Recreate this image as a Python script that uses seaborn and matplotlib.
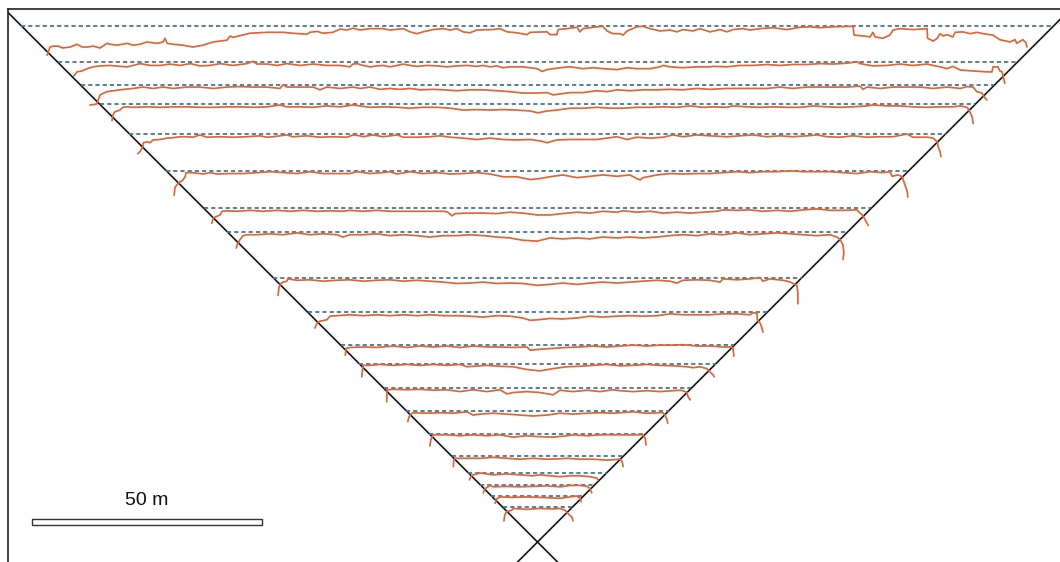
import matplotlib
matplotlib.use("Agg")
import matplotlib.pyplot as plt
from matplotlib.patches import Rectangle
import seaborn as sns
import pandas as pd

# ---------------- data (metres) ----------------
# design levels (height above the apex of the V)
design_levels = [112.2, 104.3, 99.3, 95.2, 88.7, 80.7, 72.6, 67.4, 57.4, 50.0,
                 42.8, 38.8, 33.4, 28.5, 23.5, 18.6, 15.1, 12.5, 10.1, 7.6]

# measured traces: (horizontal position, depth below design level)
trace_01 = [(-106.6,6.4),(-106.0,4.6),(-105.3,4.4),(-104.2,4.4),(-103.2,4.8),(-101.6,4.6),(-100.1,4.0),(-99.0,4.6),(-97.9,4.6),(-96.6,4.4),(-95.1,4.8),(-93.6,3.8),(-92.9,4.0),(-91.4,4.2),(-89.2,3.8),(-87.9,4.2),(-86.4,4.0),(-84.9,3.5),(-82.7,3.8),(-81.4,3.5),(-81.0,2.7),(-80.5,3.8),(-79.2,4.0),(-77.1,4.2),(-74.9,4.6),(-72.7,4.2),(-70.5,3.5),(-67.5,3.1),(-66.8,2.2),(-66.2,2.5),(-62.5,1.6),(-58.8,1.4),(-55.3,1.4),(-53.2,1.6),(-50.1,1.8),(-49.5,1.4),(-47.9,1.2),(-46.6,1.6),(-44.5,1.4),(-42.9,0.7),(-41.4,0.9),(-40.1,0.5),(-38.6,0.9),(-36.4,0.6),(-33.6,0.6),(-32.1,0.9),(-29.2,0.6),(-27.7,1.3),(-26.2,1.7),(-24.9,1.3),(-22.7,0.8),(-20.5,0.6),(-19.0,0.9),(-17.5,0.6),(-16.2,1.3),(-14.7,1.5),(-13.2,0.9),(-9.7,0.8),(-8.2,0.6),(-6.6,1.3),(-4.5,1.5),(-2.3,1.9),(-1.6,1.4),(2.1,1.3),(2.7,1.9),(4.2,1.9),(4.5,0.8),(6.4,0.6),(8.6,0.3),(9.2,1.3),(9.9,0.6),(12.9,0.2),(14.2,0.1),(15.1,1.1),(16.4,1.7),(17.9,1.7),(18.6,2.0),(19.5,1.1),(21.6,0.2),(22.9,0.1),(24.5,0.6),(26.6,1.1),(28.8,0.9),(30.3,1.3),(31.6,0.8),(33.8,1.1),(35.3,0.6),(37.5,1.3),(39.7,0.8),(41.2,1.3),(42.5,0.8),(44.7,0.6),(46.2,0.9),(48.4,0.6),(51.2,0.4),(54.2,0.8),(57.1,0.3),(59.2,0.2),(61.4,0.4),(64.2,0.2),(68.6,0.1),(68.8,2.0),(70.8,2.2),(72.3,2.4),(72.9,1.4),(73.4,2.4),(75.1,2.7),(76.6,2.0),(77.3,0.9),(78.8,0.6),(81.6,0.8),(84.7,0.6),(84.8,2.7),(86.0,3.3),(86.9,2.7),(87.5,1.7),(88.2,2.2),(89.0,1.9),(90.3,2.4),(90.8,1.4),(92.5,1.3),(94.0,1.7),(95.5,1.4),(96.9,1.7),(99.0,2.0),(100.5,3.0),(102.7,3.5),(103.8,3.0),(104.2,3.8),(105.5,3.0),(106.2,3.7),(106.4,4.6)]
trace_02 = [(-100.8,3.0),(-100.1,2.1),(-99.0,1.9),(-97.9,1.4),(-96.6,1.0),(-95.1,0.8),(-92.9,0.7),(-90.8,0.9),(-89.2,1.0),(-87.9,0.7),(-86.4,0.3),(-84.2,0.7),(-82.1,0.7),(-79.9,0.4),(-77.7,0.7),(-75.5,0.3),(-73.4,0.8),(-71.2,0.7),(-69.0,0.3),(-66.2,0.7),(-63.2,0.3),(-61.8,-0.2),(-61.0,0.4),(-58.8,0.4),(-56.6,0.7),(-54.5,0.3),(-51.6,0.7),(-48.8,0.4),(-45.8,0.7),(-42.9,0.7),(-40.8,1.0),(-40.1,0.4),(-39.2,0.3),(-37.9,0.7),(-36.4,1.0),(-34.9,0.8),(-33.6,0.7),(-32.1,1.0),(-30.5,0.7),(-29.2,0.4),(-27.7,0.7),(-26.2,0.9),(-24.0,0.7),(-21.8,0.8),(-19.7,1.0),(-17.5,0.8),(-15.3,0.7),(-13.2,0.9),(-11.8,0.7),(-10.3,1.0),(-8.8,0.8),(-7.5,1.2),(-6.0,1.0),(-4.5,1.0),(-3.2,1.0),(-1.6,1.2),(-0.1,1.4),(1.0,2.0),(2.1,1.6),(3.4,1.4),(4.9,1.2),(7.1,1.0),(9.9,1.4),(12.1,1.2),(14.2,1.4),(17.3,1.6),(19.5,1.2),(21.6,1.4),(24.5,1.4),(26.6,1.0),(27.3,0.7),(28.8,1.0),(31.6,1.2),(34.7,1.0),(37.5,1.0),(38.2,0.9),(41.2,1.0),(44.0,0.7),(46.8,0.7),(49.9,0.5),(52.7,0.7),(55.5,0.5),(58.6,0.5),(61.4,0.3),(64.2,0.4),(67.3,0.2),(69.5,-0.1),(70.1,0.3),(72.9,0.8),(76.0,0.7),(78.8,0.4),(81.6,0.7),(84.7,0.4),(86.0,0.7),(87.5,1.0),(89.0,1.4),(90.3,0.9),(91.9,1.7),(94.7,1.9),(97.7,2.1),(98.8,2.1),(99.0,1.0),(100.1,1.0),(100.5,1.9),(101.0,2.1),(101.2,3.0),(101.6,4.6)]
trace_03 = [(-97.3,4.3),(-95.8,4.1),(-95.1,2.1),(-93.6,1.4),(-90.8,1.0),(-87.9,0.7),(-85.8,0.4),(-83.6,0.7),(-81.4,0.4),(-79.2,0.7),(-76.2,0.4),(-73.4,0.4),(-70.5,0.7),(-67.5,0.4),(-64.7,0.3),(-61.8,0.4),(-58.8,0.4),(-56.0,0.7),(-55.3,-0.1),(-54.5,0.4),(-51.6,0.4),(-48.8,0.4),(-47.3,1.0),(-45.8,0.4),(-42.9,0.7),(-40.1,0.4),(-38.6,0.7),(-36.4,0.4),(-34.2,0.9),(-32.1,0.7),(-29.9,0.9),(-27.7,0.7),(-25.5,1.0),(-22.7,0.9),(-20.5,1.0),(-17.5,1.2),(-14.7,1.0),(-11.8,1.0),(-8.8,1.2),(-6.0,1.4),(-3.2,1.7),(-0.1,1.7),(2.1,1.6),(3.4,2.1),(4.9,1.9),(7.1,1.6),(9.9,1.6),(12.9,1.2),(15.1,1.4),(17.3,1.0),(20.1,1.2),(22.9,1.0),(26.0,1.0),(28.8,0.9),(31.6,1.0),(34.7,0.7),(37.5,0.9),(41.2,0.7),(44.0,0.7),(46.8,0.7),(49.9,0.7),(52.7,0.4),(55.5,0.7),(58.6,0.4),(61.4,0.4),(64.2,0.4),(67.3,0.4),(70.1,0.2),(70.8,0.9),(71.6,0.4),(74.5,0.7),(77.3,0.4),(80.3,0.4),(83.2,0.4),(86.0,0.7),(89.0,0.4),(91.9,0.7),(93.4,0.3),(94.7,0.4),(95.5,1.4),(96.6,1.7),(97.3,2.8),(97.7,3.2)]
trace_04 = [(-92.5,3.6),(-92.3,2.4),(-91.9,1.7),(-90.8,1.3),(-90.1,0.7),(-89.2,0.6),(-87.9,0.7),(-84.9,0.6),(-82.1,0.7),(-79.2,0.6),(-76.2,0.6),(-73.4,0.7),(-70.5,0.7),(-67.5,0.6),(-64.7,0.6),(-61.8,0.7),(-58.8,0.6),(-56.0,0.2),(-54.5,0.6),(-51.6,0.6),(-48.8,0.7),(-45.8,0.4),(-42.9,0.6),(-40.1,0.2),(-38.6,0.4),(-36.4,0.7),(-33.6,0.6),(-30.5,0.7),(-27.7,0.9),(-24.9,0.7),(-21.8,0.7),(-19.0,0.9),(-16.2,1.3),(-13.2,1.2),(-10.3,1.3),(-7.5,1.2),(-4.5,1.3),(-1.6,1.5),(0.1,1.9),(2.1,1.5),(4.2,1.3),(7.1,0.9),(9.9,0.9),(12.9,0.7),(15.8,0.9),(18.6,0.9),(21.6,0.7),(24.5,0.7),(27.3,0.6),(30.3,0.7),(33.2,0.4),(36.0,0.7),(38.2,0.6),(41.2,0.7),(42.5,0.4),(45.5,0.6),(48.4,0.7),(51.2,0.6),(54.2,0.7),(57.1,0.7),(59.9,0.4),(62.9,0.6),(65.8,0.7),(68.6,0.6),(71.6,0.4),(72.9,0.2),(76.0,0.4),(78.8,0.4),(81.6,0.6),(84.7,0.7),(87.5,0.6),(90.3,0.6),(91.9,0.4),(93.4,0.7),(94.0,1.7),(94.5,2.8),(94.7,4.2)]
trace_05 = [(-86.9,4.3),(-86.4,3.8),(-85.8,2.8),(-85.7,1.9),(-84.9,1.7),(-84.2,1.9),(-83.6,1.3),(-82.1,1.2),(-80.5,0.9),(-79.2,0.8),(-77.7,0.6),(-76.2,0.6),(-74.9,0.7),(-73.4,0.2),(-71.9,0.7),(-69.0,0.6),(-66.2,0.7),(-63.2,0.6),(-60.3,0.4),(-58.8,0.7),(-57.5,0.6),(-54.5,0.2),(-53.2,0.6),(-50.1,0.4),(-47.3,0.7),(-44.5,0.6),(-41.4,0.7),(-40.1,0.2),(-38.6,0.4),(-37.9,0.6),(-35.8,0.2),(-33.6,0.6),(-30.5,0.2),(-29.2,0.7),(-26.2,0.7),(-23.4,0.6),(-21.2,0.4),(-19.0,0.7),(-16.2,0.9),(-13.2,1.2),(-10.3,0.9),(-7.5,1.2),(-4.5,1.3),(-1.6,1.2),(0.5,1.5),(2.1,1.9),(4.2,1.3),(7.1,1.2),(9.9,1.2),(12.9,1.2),(15.1,0.9),(17.3,0.6),(19.5,1.2),(21.6,0.7),(24.5,0.9),(27.3,0.7),(29.5,0.2),(31.6,0.6),(34.7,0.2),(37.5,0.4),(41.2,0.6),(44.0,0.4),(46.8,0.2),(49.9,0.6),(52.7,0.4),(55.5,0.6),(58.6,0.4),(60.8,0.2),(62.9,0.6),(65.8,0.7),(68.6,0.4),(71.6,0.7),(74.5,0.6),(77.3,0.6),(80.3,0.0),(81.6,0.7),(84.7,0.7),(86.0,0.9),(86.9,1.7),(87.1,2.8),(87.5,3.8),(87.7,4.9)]
trace_06 = [(-79.0,5.3),(-78.8,3.6),(-78.2,2.8),(-77.1,2.0),(-76.6,1.3),(-76.4,0.4),(-75.1,0.4),(-72.7,0.7),(-71.2,0.4),(-69.7,0.7),(-66.8,0.6),(-64.0,0.6),(-61.0,0.4),(-58.2,0.2),(-55.3,0.4),(-52.3,0.6),(-49.5,0.2),(-46.6,0.6),(-43.6,0.6),(-40.8,0.6),(-39.2,0.2),(-36.4,0.6),(-33.6,0.4),(-32.1,0.2),(-30.5,0.7),(-27.7,0.2),(-24.9,0.6),(-21.8,0.4),(-19.0,0.7),(-16.2,0.6),(-13.2,0.4),(-10.3,0.7),(-7.5,1.3),(-4.5,1.3),(-1.6,1.9),(0.5,1.7),(2.7,1.3),(5.5,0.9),(8.6,1.5),(11.4,1.2),(14.2,0.9),(17.3,1.2),(20.1,0.9),(21.6,1.7),(22.3,2.0),(22.9,1.5),(26.0,0.9),(28.8,0.6),(31.6,0.7),(34.7,0.6),(37.5,0.6),(40.3,0.4),(43.4,0.2),(46.2,0.4),(49.0,0.2),(52.1,0.2),(55.0,0.0),(57.7,0.2),(60.8,0.2),(63.6,0.2),(66.4,0.4),(69.5,0.6),(72.3,0.2),(75.1,0.4),(76.6,0.2),(77.1,1.2),(78.4,0.9),(79.3,1.3),(79.5,2.0),(79.9,3.1),(80.4,4.6),(80.5,5.7)]
trace_07 = [(-70.8,3.3),(-70.5,2.2),(-69.7,1.8),(-69.0,1.5),(-68.6,0.7),(-67.5,0.6),(-65.3,0.7),(-62.5,0.5),(-59.7,0.7),(-56.6,0.5),(-53.8,0.7),(-51.0,0.5),(-47.9,0.7),(-45.1,0.6),(-42.3,0.7),(-40.8,0.5),(-37.9,0.7),(-34.9,0.5),(-32.1,0.7),(-29.2,0.7),(-26.2,0.7),(-23.4,0.7),(-20.5,0.7),(-19.5,0.9),(-18.6,1.7),(-17.9,1.2),(-14.7,1.1),(-11.8,1.1),(-8.8,1.2),(-6.0,0.9),(-3.2,1.1),(-0.1,1.5),(2.7,1.5),(5.5,1.2),(8.6,0.9),(11.4,1.1),(14.2,0.7),(17.3,0.9),(18.6,0.6),(21.6,0.9),(24.5,0.7),(27.3,1.1),(30.3,0.9),(33.2,1.1),(36.0,0.9),(39.0,0.7),(40.3,0.4),(43.4,0.5),(46.2,0.4),(49.0,0.7),(52.1,0.5),(55.0,0.7),(57.7,0.4),(60.8,0.2),(63.6,0.5),(66.4,0.5),(69.5,0.4),(69.7,0.7),(70.6,1.5),(71.2,2.5),(71.9,3.8)]
trace_08 = [(-65.5,3.5),(-65.3,2.8),(-64.7,1.7),(-64.0,0.8),(-63.2,0.6),(-61.0,0.6),(-58.2,0.4),(-55.3,0.6),(-52.3,0.2),(-49.5,0.6),(-46.6,0.4),(-43.6,0.6),(-42.3,1.1),(-40.8,0.6),(-37.9,0.6),(-34.9,0.4),(-32.1,0.8),(-29.2,0.6),(-26.2,0.8),(-23.4,1.1),(-20.5,0.8),(-17.5,0.8),(-14.7,0.6),(-11.8,0.8),(-8.8,1.1),(-6.0,1.3),(-3.2,1.8),(-0.1,2.0),(2.7,1.3),(5.5,1.5),(8.6,1.3),(11.4,1.5),(14.2,1.1),(17.3,1.3),(20.1,1.1),(22.9,1.3),(26.0,1.1),(28.8,0.8),(31.6,0.6),(34.7,0.8),(37.5,0.4),(40.3,0.6),(43.4,0.2),(46.2,0.6),(49.0,0.4),(52.1,0.2),(55.0,0.4),(57.7,0.6),(60.8,0.8),(63.6,0.6),(65.1,1.1),(65.8,1.7),(66.4,2.8),(66.6,4.6),(66.4,6.0)]
trace_09 = [(-56.4,3.8),(-56.2,2.0),(-55.8,1.2),(-55.3,0.9),(-54.5,0.7),(-54.3,0.2),(-52.3,0.5),(-49.5,0.4),(-46.6,0.7),(-43.6,0.5),(-40.8,0.4),(-37.9,0.7),(-34.9,0.5),(-32.1,0.4),(-29.2,0.7),(-26.2,0.5),(-23.4,0.7),(-20.5,0.9),(-17.5,1.2),(-14.7,1.1),(-11.8,0.9),(-8.8,1.2),(-6.0,1.1),(-3.2,1.2),(-0.1,1.6),(2.7,1.4),(5.5,1.1),(8.6,1.4),(11.4,1.1),(14.2,0.9),(17.3,1.1),(20.1,0.9),(22.9,0.7),(26.0,0.5),(28.8,0.7),(30.3,1.1),(31.6,0.5),(34.7,0.4),(37.5,0.5),(39.7,0.9),(40.3,0.2),(43.4,0.4),(46.2,0.2),(48.4,-0.1),(49.0,0.7),(50.5,0.2),(53.4,0.5),(55.0,0.9),(56.4,1.6),(56.6,3.4),(56.6,5.6)]
trace_10 = [(-48.4,3.5),(-47.9,2.4),(-47.3,2.0),(-45.8,1.7),(-45.1,0.9),(-43.6,0.8),(-40.8,0.6),(-37.9,0.8),(-34.9,0.6),(-32.1,0.8),(-29.2,0.6),(-26.2,0.8),(-23.4,0.6),(-20.5,0.8),(-17.5,0.8),(-14.7,0.9),(-11.8,1.1),(-8.8,0.8),(-6.0,0.9),(-3.2,1.3),(-1.6,1.8),(-0.1,1.7),(2.7,1.4),(5.5,1.5),(8.6,1.3),(11.4,0.9),(14.2,1.1),(17.3,0.9),(20.1,0.8),(22.9,0.9),(26.0,0.8),(28.8,0.4),(31.6,0.6),(34.7,0.6),(37.5,0.6),(40.3,0.4),(43.4,0.4),(46.2,0.6),(46.8,0.2),(47.7,0.2),(47.8,1.7),(48.4,2.4),(48.8,3.5),(49.0,4.4)]
trace_11 = [(-41.8,2.2),(-41.6,0.7),(-40.8,0.5),(-37.9,0.4),(-34.9,0.5),(-31.4,0.2),(-28.4,0.5),(-25.5,0.2),(-22.7,0.4),(-19.7,0.2),(-16.8,0.5),(-14.0,0.2),(-11.0,0.4),(-8.2,0.4),(-5.3,0.5),(-2.3,0.4),(-1.6,1.1),(0.5,0.9),(3.4,0.7),(6.4,0.5),(9.2,0.4),(12.1,0.2),(15.1,0.4),(17.9,0.2),(20.8,0.0),(23.8,0.2),(26.6,0.0),(29.5,0.0),(31.6,-0.1),(34.7,0.2),(37.5,0.2),(40.3,0.4),(42.1,0.4),(42.5,0.7),(42.7,2.4)]
trace_12 = [(-38.2,2.9),(-38.0,1.1),(-37.9,0.4),(-36.4,0.4),(-34.2,0.2),(-31.4,0.4),(-28.4,0.2),(-25.5,0.4),(-22.7,0.2),(-19.7,0.4),(-16.8,0.2),(-15.3,0.7),(-14.0,0.6),(-11.0,0.4),(-8.2,0.6),(-5.3,0.7),(-2.3,1.3),(0.5,1.6),(3.4,1.1),(6.4,0.7),(9.2,0.6),(12.1,0.4),(15.1,0.2),(17.9,0.5),(20.8,0.4),(23.8,0.2),(26.6,0.4),(29.5,0.5),(32.5,0.7),(33.8,0.9),(35.3,0.7),(36.8,1.1),(37.5,1.8),(38.2,2.5),(38.4,2.9)]
trace_13 = [(-32.8,2.9),(-32.7,0.3),(-32.5,0.3),(-31.4,0.2),(-28.4,0.3),(-25.5,0.2),(-22.7,0.4),(-19.7,0.3),(-16.8,0.7),(-14.0,0.3),(-11.0,0.7),(-8.2,0.3),(-6.6,1.2),(-5.3,0.9),(-2.3,0.7),(0.5,0.9),(3.4,1.4),(4.9,0.4),(7.7,0.7),(10.8,0.4),(13.6,0.7),(16.4,0.3),(17.9,0.5),(20.8,0.7),(23.8,0.5),(26.6,0.7),(29.5,0.5),(31.0,0.4),(31.6,0.5),(32.5,0.9),(32.7,1.8),(33.2,2.5)]
trace_14 = [(-28.2,2.3),(-27.9,1.2),(-27.5,0.7),(-27.1,0.4),(-24.0,0.5),(-21.2,0.4),(-18.4,0.5),(-15.3,0.2),(-14.0,0.9),(-12.5,0.7),(-9.7,0.5),(-6.6,0.7),(-3.8,0.9),(-1.0,1.1),(2.1,0.9),(4.9,0.5),(7.7,0.7),(10.8,0.5),(13.6,0.4),(16.4,0.5),(17.9,0.4),(20.8,0.2),(23.8,0.5),(26.6,0.4),(27.3,0.4),(27.7,0.9),(28.2,2.0),(28.3,2.7)]
trace_15 = [(-23.4,2.6),(-23.2,1.3),(-22.7,0.2),(-19.7,0.2),(-16.8,0.4),(-14.0,0.2),(-11.0,0.4),(-8.2,0.2),(-5.3,0.7),(-2.3,0.4),(0.5,0.6),(3.4,0.7),(6.4,0.4),(7.7,0.2),(10.8,0.4),(13.6,0.2),(16.4,0.2),(19.5,0.2),(22.3,0.2),(22.9,0.2),(23.4,0.9),(23.6,2.4)]
trace_16 = [(-18.3,2.2),(-18.2,0.9),(-17.9,0.4),(-15.3,0.4),(-12.5,0.4),(-9.7,0.2),(-6.6,0.4),(-3.8,0.6),(-1.0,0.4),(2.1,0.6),(4.9,0.5),(6.4,0.4),(9.2,0.6),(12.1,0.6),(15.1,0.8),(17.9,0.6),(18.4,1.1),(18.6,2.2)]
trace_17 = [(-14.8,1.6),(-14.5,0.9),(-14.0,0.5),(-12.5,0.1),(-9.6,0.5),(-6.8,0.3),(-3.8,0.5),(-1.0,0.7),(0.5,0.5),(4.9,0.9),(7.1,0.7),(9.2,0.7),(11.4,0.9),(12.9,1.2),(13.2,1.6)]
trace_18 = [(-11.8,1.8),(-11.4,0.9),(-10.3,0.2),(-9.6,0.5),(-6.7,0.4),(-3.8,0.5),(-0.9,0.4),(2.1,0.3),(4.9,0.5),(7.1,0.2),(9.2,0.2),(10.8,0.4),(11.4,0.9),(11.8,1.8)]
trace_19 = [(-9.2,1.7),(-9.0,0.8),(-8.2,0.3),(-5.3,0.4),(-2.3,0.3),(0.5,0.4),(4.9,0.6),(7.1,0.3),(8.6,0.1),(9.2,0.6),(9.5,1.3)]
trace_20 = [(-7.3,3.0),(-7.1,1.7),(-6.7,1.0),(-5.6,0.7),(-5.3,0.3),(-2.3,0.5),(0.5,0.3),(3.4,0.4),(4.9,0.3),(6.0,0.7),(6.6,1.4),(7.5,2.2),(7.7,3.0)]

traces = [trace_01, trace_02, trace_03, trace_04, trace_05, trace_06, trace_07,
          trace_08, trace_09, trace_10, trace_11, trace_12, trace_13, trace_14,
          trace_15, trace_16, trace_17, trace_18, trace_19, trace_20]

scale_length_m = 50
scale_label = f"{scale_length_m} m"

# ---------------- styling ----------------
ORANGE = "#dc6636"
DASH_BLUE = "#4b7396"

sns.set_theme(style="white")
plt.rcParams["font.family"] = ["Liberation Sans", "DejaVu Sans"]

fig = plt.figure(figsize=(10.6, 5.62), dpi=100)
ax = fig.add_axes([7.5 / 1060, -5 / 562, 1057.5 / 1060, 558 / 562])

# long-form table of the measured traces
rows = []
for i, (level, pts) in enumerate(zip(design_levels, traces)):
    for order, (x, d) in enumerate(pts):
        rows.append({"trace": i, "order": order, "x": x, "z": level - d})
df = pd.DataFrame(rows)

# V-shaped boundary lines
ax.axline((0, 0), slope=-1, color="#151515", lw=1.2, zorder=1)
ax.axline((0, 0), slope=1, color="#151515", lw=1.2, zorder=1)

# design levels (dashed), spanning the V at each level
lev = pd.Series(design_levels)
ax.hlines(lev, -lev, lev, colors=DASH_BLUE, linestyles=(0, (2.3, 1.7)),
          lw=1.3, zorder=2)

# measured traces
sns.lineplot(data=df, x="x", y="z", units="trace", estimator=None, sort=False,
             color=ORANGE, lw=1.25, legend=False, ax=ax, zorder=3)

# scale bar
sb_x0, sb_y0 = -109.9, 3.7
ax.add_patch(Rectangle((sb_x0, sb_y0), scale_length_m, 1.3, facecolor="white",
                       edgecolor="#333333", lw=1.0, zorder=4))
ax.text(sb_x0 + scale_length_m / 2, 9.0, scale_label, ha="center", va="center",
        fontsize=14, color="#111111", zorder=4)

ax.set_xlim(-115.22, 114.67)
ax.set_ylim(-5.43, 115.87)
ax.set_xlabel("")
ax.set_ylabel("")
ax.set_xticks([])
ax.set_yticks([])
for side in ["top", "left", "right", "bottom"]:
    ax.spines[side].set_color("#222222")
    ax.spines[side].set_linewidth(1.2)

fig.savefig("out.png", dpi=100)
